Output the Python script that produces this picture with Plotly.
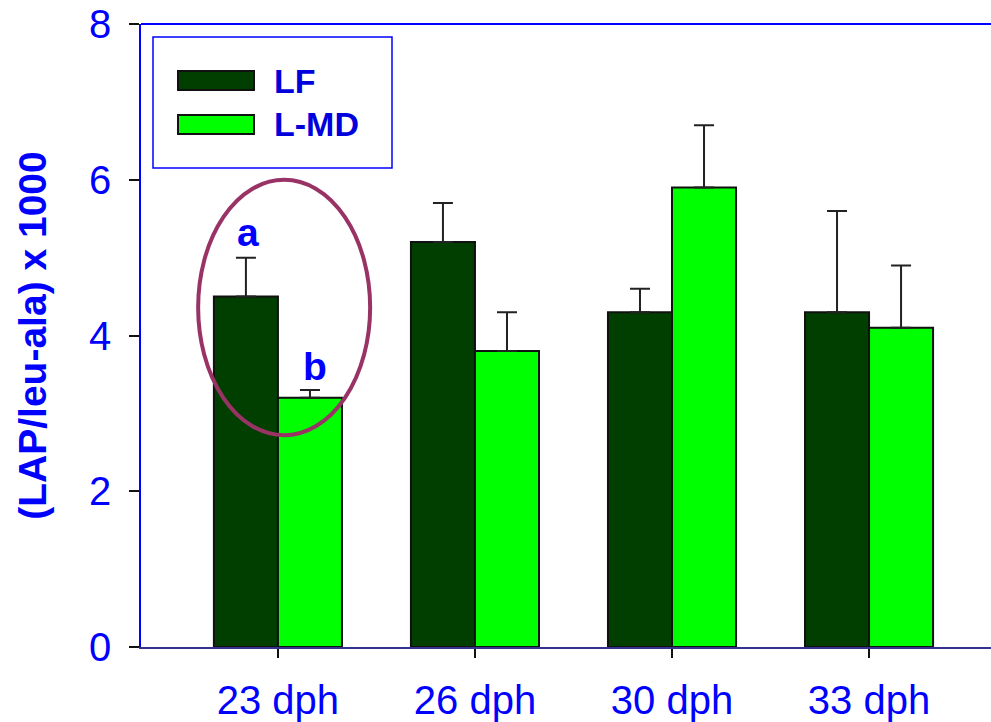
import plotly.graph_objects as go

# Leucine aminopeptidase activity ratio by age (days post hatch)
categories = ["23 dph", "26 dph", "30 dph", "33 dph"]
series_names = ["LF", "L-MD"]
lf_mean = [4.5, 5.2, 4.3, 4.3]
lf_err = [0.5, 0.5, 0.3, 1.3]
lmd_mean = [3.2, 3.8, 5.9, 4.1]
lmd_err = [0.1, 0.5, 0.8, 0.8]
sig_letters = ["a", "b"]          # significance letters for the 23 dph pair
y_ticks = [0, 2, 4, 6, 8]

FONT = "Liberation Sans, Arial, sans-serif"
BLUE = "#0000FF"
LF_COLOR = "#003F00"
LMD_COLOR = "#00FF00"

W, H = 991, 722
ML, MR, MT, MB = 141, 0, 24, 75
PW, PH = W - ML - MR, H - MT - MB


def px(x):
    return (x - ML) / PW


def py(y):
    return 1 - (y - MT) / PH


def err(vals):
    return dict(type="data", array=vals, arrayminus=[0] * len(vals),
                symmetric=False, color="#222222", thickness=2, width=10)


fig = go.Figure()
fig.add_bar(name=series_names[0], x=categories, y=lf_mean, error_y=err(lf_err),
            marker=dict(color=LF_COLOR, line=dict(color="#111111", width=2)),
            showlegend=False)
fig.add_bar(name=series_names[1], x=categories, y=lmd_mean, error_y=err(lmd_err),
            marker=dict(color=LMD_COLOR, line=dict(color="#111111", width=2)),
            showlegend=False)

# significance letters above the first pair of bars
fig.add_annotation(x=0, y=lf_mean[0] + lf_err[0], text="<b>%s</b>" % sig_letters[0],
                   xshift=-30, yshift=2, yanchor="bottom", showarrow=False,
                   font=dict(family=FONT, size=39, color=BLUE))
fig.add_annotation(x=0, y=lmd_mean[0] + lmd_err[0], text="<b>%s</b>" % sig_letters[1],
                   xshift=37, yshift=0, yanchor="bottom", showarrow=False,
                   font=dict(family=FONT, size=39, color=BLUE))

# highlight ring around the 23 dph pair
fig.add_shape(type="circle", xref="x", yref="y", x0=-0.405, x1=0.468, y0=2.72, y1=6.0,
              line=dict(color="#993366", width=4), layer="above")

# top frame line
fig.add_shape(type="line", xref="paper", yref="paper", x0=0, x1=1, y0=1, y1=1,
              line=dict(color=BLUE, width=2))

# legend box drawn by hand so the swatches can be wide bars
fig.add_shape(type="rect", xref="paper", yref="paper",
              x0=px(153), x1=px(392), y0=py(168), y1=py(37),
              line=dict(color=BLUE, width=1.5), fillcolor="white", layer="above")
for name, color, top in [(series_names[0], LF_COLOR, 71), (series_names[1], LMD_COLOR, 115)]:
    fig.add_shape(type="rect", xref="paper", yref="paper",
                  x0=px(178), x1=px(254), y0=py(top + 19), y1=py(top),
                  line=dict(color="#111111", width=2), fillcolor=color, layer="above")
    fig.add_annotation(xref="paper", yref="paper", x=px(272), y=py(top + 9.5),
                       xanchor="left", yanchor="middle", showarrow=False,
                       text="<b>%s</b>" % name,
                       font=dict(family=FONT, size=34, color="#0000DD"))

fig.update_layout(
    width=W, height=H,
    margin=dict(l=ML, r=MR, t=MT, b=MB),
    paper_bgcolor="white", plot_bgcolor="white",
    barmode="group", bargap=0.35, bargroupgap=0,
    font=dict(family=FONT, color=BLUE),
    xaxis=dict(
        type="category", range=[-0.695, 3.619],
        showline=True, linecolor="#34348f", linewidth=2,
        ticks="outside", ticklen=9, tickwidth=1.5, tickcolor="#111111",
        ticklabelstandoff=8,
        tickfont=dict(family=FONT, size=40, color=BLUE),
        showgrid=False, zeroline=False,
    ),
    yaxis=dict(
        range=[0, 8], tickvals=y_ticks,
        showline=True, linecolor=BLUE, linewidth=1.5,
        ticks="outside", ticklen=10, tickwidth=1.5, tickcolor="#111111",
        ticklabelstandoff=10,
        tickfont=dict(family=FONT, size=40, color=BLUE),
        showgrid=False, zeroline=False,
        title=dict(text="<b>(LAP/leu-ala) x 1000</b>", standoff=30,
                   font=dict(family=FONT, size=39, color=BLUE)),
    ),
)

fig.write_html("out.html")
